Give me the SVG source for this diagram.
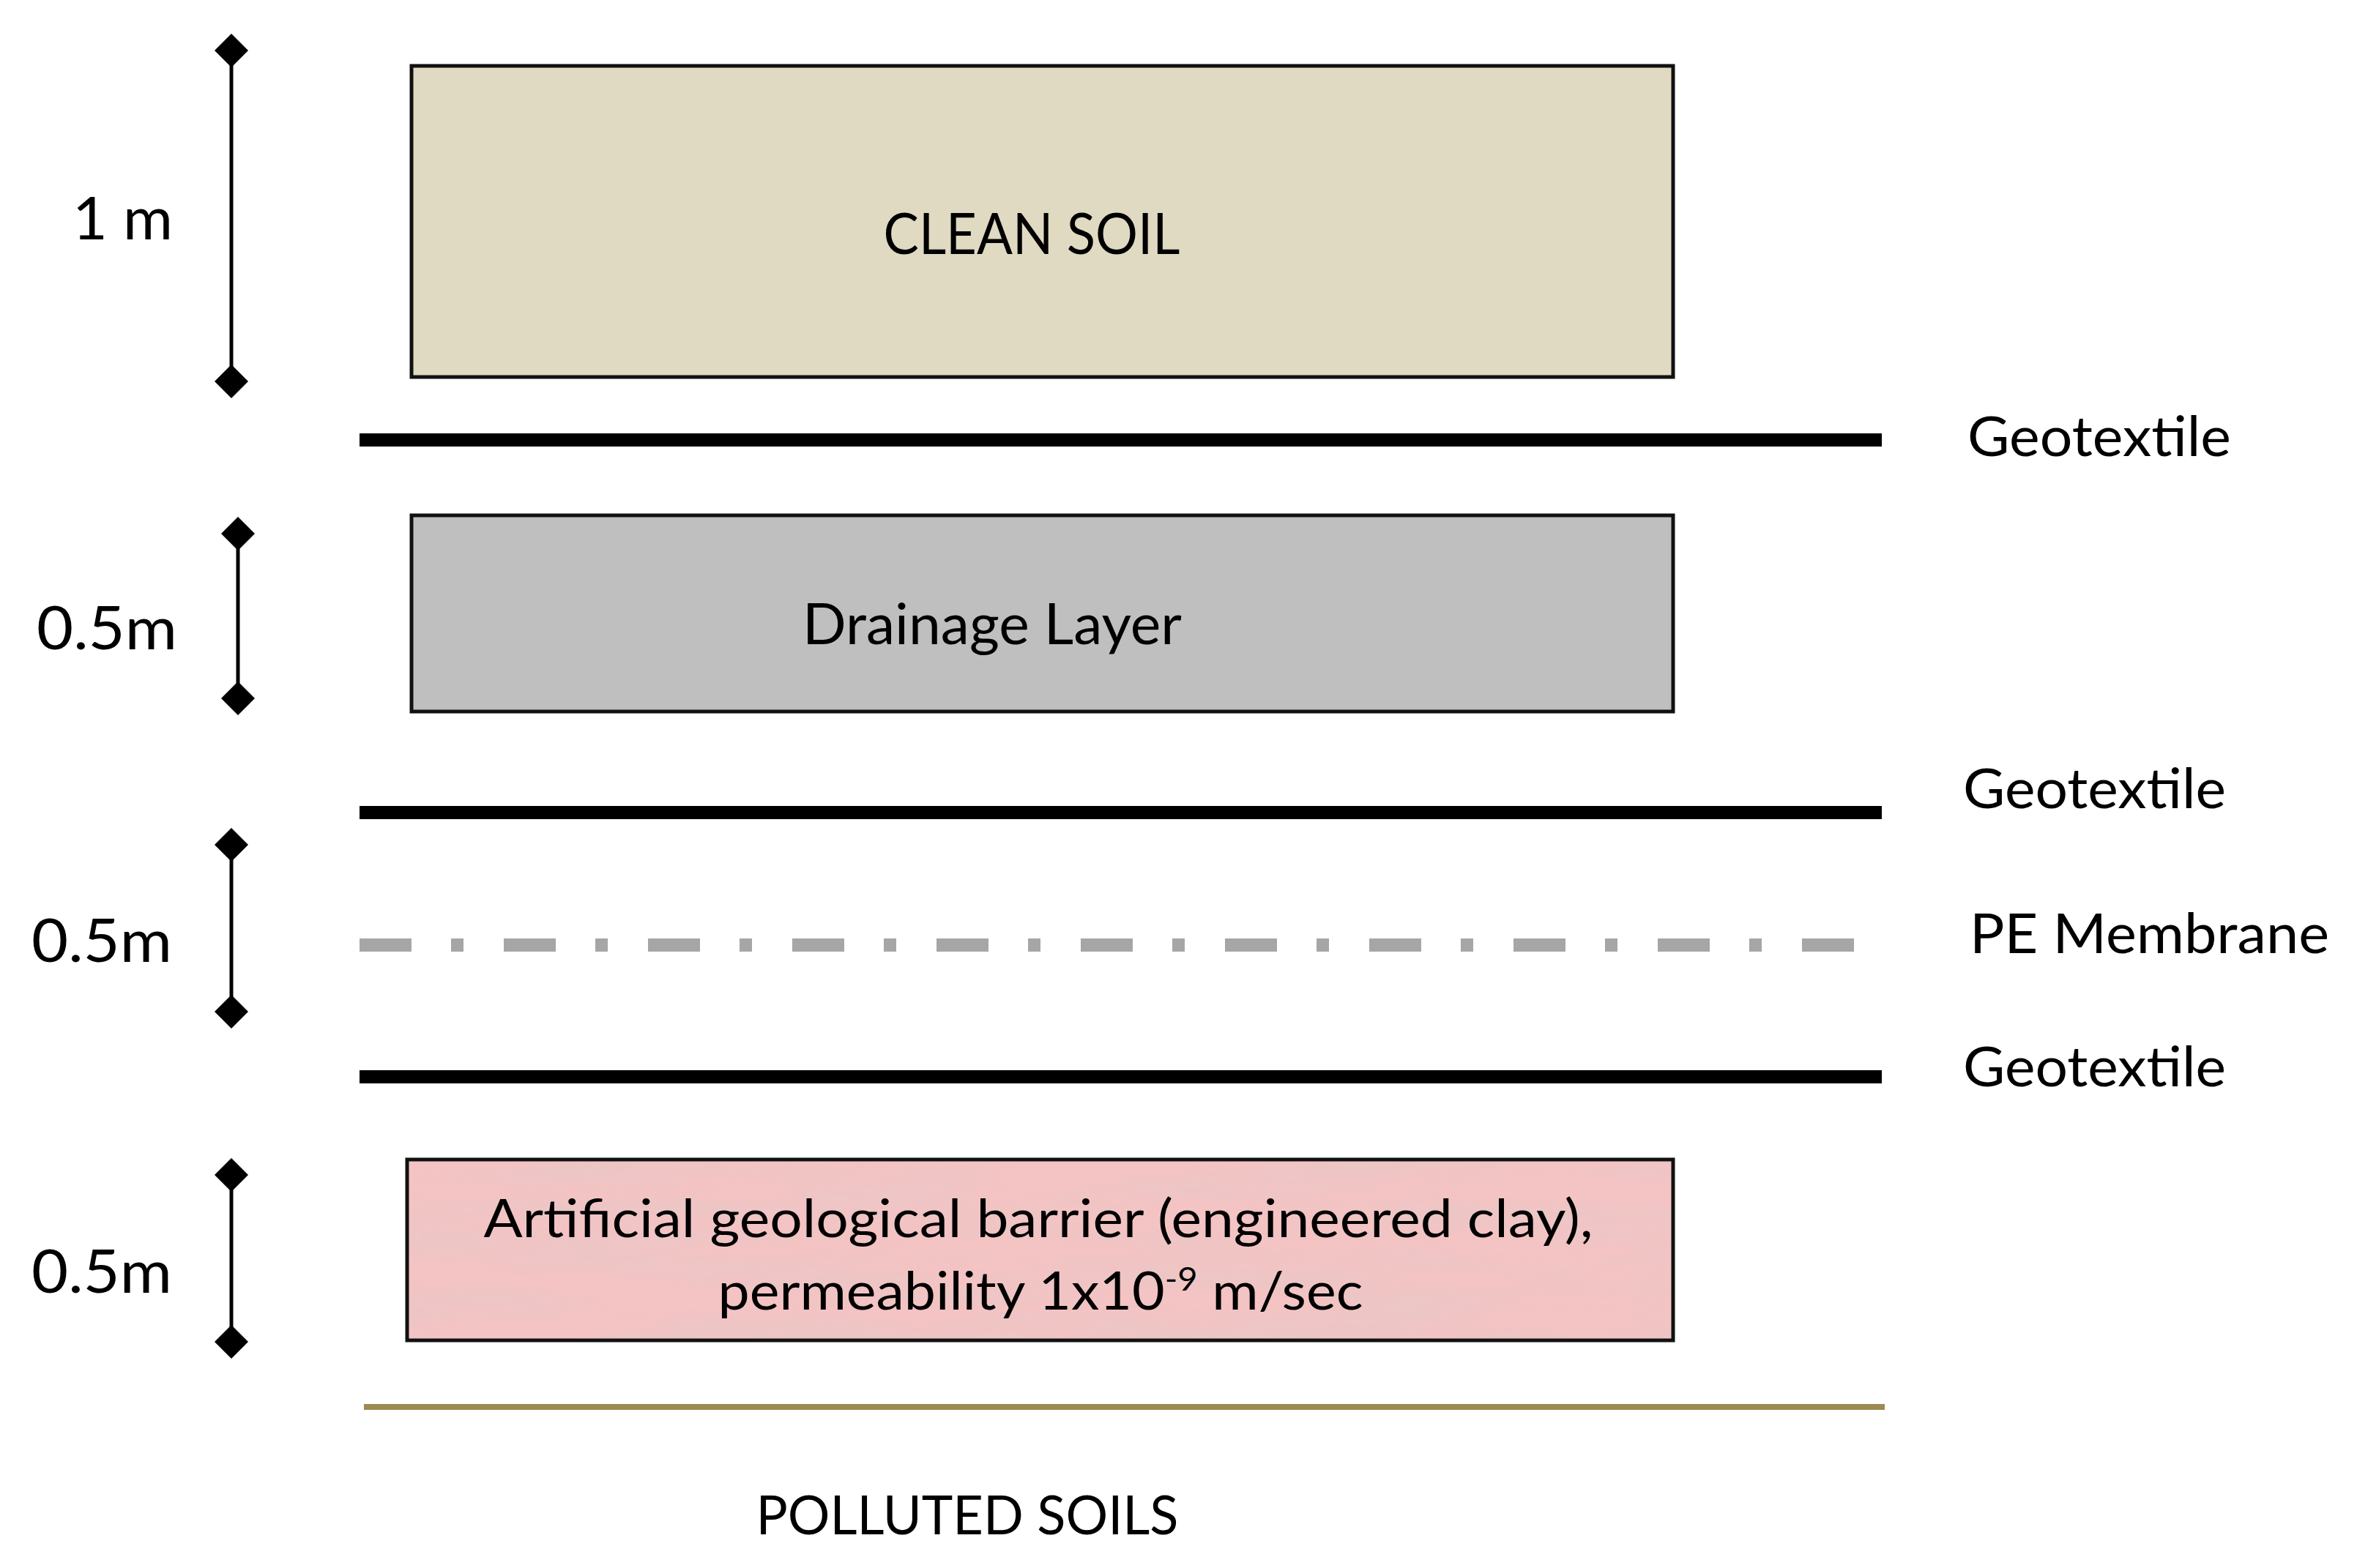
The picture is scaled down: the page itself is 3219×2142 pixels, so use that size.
<svg xmlns="http://www.w3.org/2000/svg" width="3219" height="2142" viewBox="0 0 3219 2142">
  <style>
    .lbl { font-family: Lato, "Open Sans", "Liberation Sans", sans-serif; fill: #000; }
    .box { stroke: #111; stroke-width: 5; }
    .geo { stroke: #000; stroke-width: 18; fill: none; }
    .pe { stroke: #A6A6A6; stroke-width: 18; fill: none; stroke-dasharray: 71 54 17 55; }
    .base { stroke: #9C8B50; stroke-width: 8; fill: none; }
    .dim { stroke: #000; stroke-width: 5; fill: none; marker-start: url(#diamond); marker-end: url(#diamond); }
  </style>
  <defs>
    <marker id="diamond" markerUnits="userSpaceOnUse" markerWidth="50" markerHeight="50" viewBox="-25 -25 50 50" refX="0" refY="0" orient="0">
      <polygon points="0,-23 23,0 0,23 -23,0" fill="#000"/>
    </marker>
    <filter id="clayTex" x="0" y="0" width="100%" height="100%">
      <feTurbulence type="fractalNoise" baseFrequency="0.003 0.025" numOctaves="3" seed="7" result="n"/>
      <feColorMatrix in="n" type="matrix" values="0 0 0 0 0.78  0 0 0 0 0.58  0 0 0 0 0.58  0 0 0 1.2 -0.45" result="c"/>
      <feComposite in="c" in2="SourceGraphic" operator="in"/>
    </filter>
  </defs>
  <rect width="3219" height="2142" fill="#FFFFFF"/>

  <g id="clean-soil">
    <rect class="box" x="562" y="90" width="1723" height="425" fill="#E0DAC2"/>
    <text class="lbl" x="1409" y="347" font-size="77" text-anchor="middle" textLength="405" lengthAdjust="spacingAndGlyphs">CLEAN SOIL</text>
  </g>

  <g id="drainage-layer">
    <rect class="box" x="562" y="704" width="1723" height="268" fill="#BFBFBF"/>
    <text class="lbl" x="1355" y="880" font-size="77" text-anchor="middle" textLength="518" lengthAdjust="spacingAndGlyphs">Drainage Layer</text>
  </g>

  <g id="clay-barrier">
    <rect x="556" y="1584" width="1729" height="247" fill="#F4C3C3"/>
    <rect x="556" y="1584" width="1729" height="247" fill="#F4C3C3" filter="url(#clayTex)"/>
    <rect class="box" x="556" y="1584" width="1729" height="247" fill="none"/>
    <text class="lbl" x="1418" y="1690" font-size="72" text-anchor="middle" textLength="1515" lengthAdjust="spacingAndGlyphs">Artificial geological barrier (engineered clay),</text>
    <text class="lbl" x="1421" y="1789" font-size="72" text-anchor="middle" textLength="881" lengthAdjust="spacingAndGlyphs">permeability 1x10<tspan font-size="44" dy="-26">-9</tspan><tspan dy="26"> m/sec</tspan></text>
  </g>

  <g id="layer-lines">
    <line id="geotextile-1" class="geo" x1="491" y1="601" x2="2570" y2="601"/>
    <line id="geotextile-2" class="geo" x1="491" y1="1110" x2="2570" y2="1110"/>
    <line id="pe-membrane" class="pe" x1="491" y1="1291" x2="2540" y2="1291"/>
    <line id="geotextile-3" class="geo" x1="491" y1="1471" x2="2570" y2="1471"/>
    <line id="polluted-boundary" class="base" x1="497" y1="1922" x2="2574" y2="1922"/>
  </g>

  <g id="layer-labels">
    <text class="lbl" x="2687" y="623" font-size="75" textLength="360" lengthAdjust="spacingAndGlyphs">Geotextile</text>
    <text class="lbl" x="2681" y="1104" font-size="75" textLength="359" lengthAdjust="spacingAndGlyphs">Geotextile</text>
    <text class="lbl" x="2690" y="1302" font-size="75" textLength="491" lengthAdjust="spacingAndGlyphs">PE Membrane</text>
    <text class="lbl" x="2681" y="1484" font-size="75" textLength="359" lengthAdjust="spacingAndGlyphs">Geotextile</text>
    <text class="lbl" x="1321" y="2096" font-size="74" text-anchor="middle" textLength="577" lengthAdjust="spacingAndGlyphs">POLLUTED SOILS</text>
  </g>

  <g id="dimensions">
    <line class="dim" x1="316" y1="69" x2="316" y2="521"/>
    <text class="lbl" x="99" y="327" font-size="82" textLength="137" lengthAdjust="spacingAndGlyphs">1 m</text>
    <line class="dim" x1="325" y1="729" x2="325" y2="954"/>
    <text class="lbl" x="50" y="887" font-size="81" textLength="192" lengthAdjust="spacingAndGlyphs">0.5m</text>
    <line class="dim" x1="316" y1="1154" x2="316" y2="1382"/>
    <text class="lbl" x="43" y="1314" font-size="81" textLength="192" lengthAdjust="spacingAndGlyphs">0.5m</text>
    <line class="dim" x1="316" y1="1605" x2="316" y2="1833"/>
    <text class="lbl" x="43" y="1766" font-size="81" textLength="192" lengthAdjust="spacingAndGlyphs">0.5m</text>
  </g>
</svg>
